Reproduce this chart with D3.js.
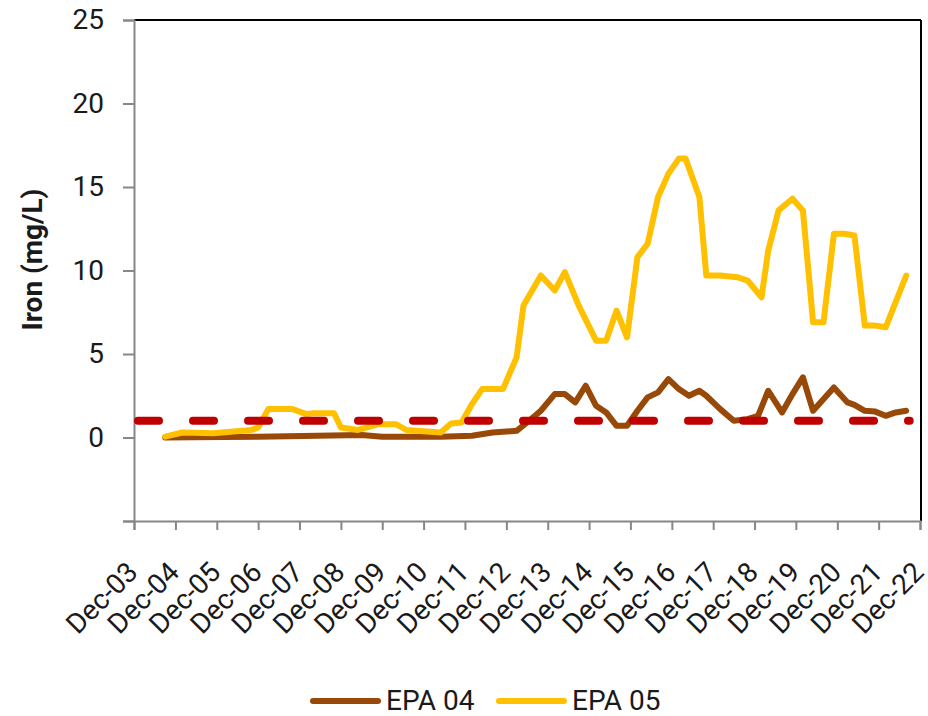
<!DOCTYPE html>
<html>
<head>
<meta charset="utf-8">
<script src="https://cdnjs.cloudflare.com/ajax/libs/d3/7.8.5/d3.min.js"></script>
<style>
body { margin: 0; background: #fff; }
#chart text { font-family: Roboto, "Noto Sans", sans-serif; fill: #1a1a1a; }
</style>
</head>
<body>
<div id="chart"></div>
<script>
// EPA 04 readings
var epa04Dates = ["2004-09","2005-05","2006-12","2009-06","2009-12","2011-05","2012-02","2012-08","2013-03","2013-06",
                  "2013-10","2014-02","2014-05","2014-08","2014-11","2015-02","2015-05","2015-08","2015-11","2016-02",
                  "2016-05","2016-08","2016-11","2017-02","2017-05","2017-08","2017-10","2018-02","2018-06","2018-10",
                  "2019-01","2019-04","2019-08","2019-11","2020-02","2020-05","2020-11","2021-03","2021-05","2021-08",
                  "2021-11","2022-02","2022-05","2022-08"];
var epa04Values = [0, 0.02, 0.05, 0.15, 0.05, 0.05, 0.1, 0.3, 0.4, 0.9,
                   1.6, 2.6, 2.6, 2.1, 3.1, 1.9, 1.5, 0.7, 0.7, 1.6,
                   2.4, 2.7, 3.5, 2.9, 2.5, 2.8, 2.5, 1.7, 1.0, 1.1,
                   1.3, 2.8, 1.5, 2.6, 3.6, 1.6, 3.0, 2.1, 1.95, 1.6,
                   1.55, 1.3, 1.5, 1.6];

// EPA 05 readings
var epa05Dates = ["2004-09","2005-02","2005-11","2006-10","2006-12","2007-03","2007-10","2008-02","2008-04","2008-10",
                  "2008-12","2009-05","2009-11","2010-04","2010-07","2011-05","2011-08","2011-11","2012-02","2012-05",
                  "2012-11","2013-03","2013-05","2013-10","2014-02","2014-05","2014-09","2015-02","2015-05","2015-08",
                  "2015-11","2016-02","2016-05","2016-08","2016-11","2017-02","2017-04","2017-08","2017-10","2018-02",
                  "2018-07","2018-10","2019-02","2019-04","2019-07","2019-11","2020-02","2020-05","2020-08","2020-11",
                  "2021-02","2021-05","2021-08","2021-11","2022-02","2022-08"];
var epa05Values = [0.05, 0.3, 0.25, 0.45, 0.6, 1.7, 1.7, 1.4, 1.45, 1.45,
                   0.6, 0.45, 0.8, 0.8, 0.45, 0.3, 0.84, 0.9, 2.0, 2.9,
                   2.9, 4.8, 7.9, 9.7, 8.8, 9.9, 7.9, 5.8, 5.8, 7.6,
                   6.0, 10.8, 11.6, 14.4, 15.8, 16.7, 16.7, 14.4, 9.7, 9.7,
                   9.6, 9.4, 8.4, 11.2, 13.6, 14.3, 13.6, 6.9, 6.9, 12.2,
                   12.2, 12.1, 6.7, 6.7, 6.6, 9.7];

// guideline value (1 mg/L)
var limitDates = ["2003-12","2022-09"];
var limitValues = [1, 1];

var tickYears = d3.range(2003, 2023);
var yTicks = [-5, 0, 5, 10, 15, 20, 25];

var seriesNames = ["EPA 04", "EPA 05"];
var seriesColors = ["#984807", "#FFC000"];

var W = 928, H = 716;
var plotLeft = 134, plotRight = 920, plotTop = 20, plotBottom = 521;

var parse = d3.timeParse("%Y-%m");
var fmt = d3.timeFormat("%b-%y");

function pairs(dates, values){
	return dates.map(function(d, i){ return {date: parse(d), value: values[i]}; });
}

var svg = d3.select("#chart").append("svg")
	.attr("width", W)
	.attr("height", H);

var x = d3.scaleTime()
	.domain([new Date(2003, 11, 1), new Date(2022, 11, 1)])
	.range([plotLeft, plotRight]);

var y = d3.scaleLinear()
	.domain([-5, 25])
	.range([plotBottom, plotTop]);

// frame: top and right sides black
svg.append("line")
	.attr("x1", plotLeft).attr("x2", plotRight + 1)
	.attr("y1", plotTop).attr("y2", plotTop)
	.attr("stroke", "#000").attr("stroke-width", 2);
svg.append("line")
	.attr("x1", plotRight + 1).attr("x2", plotRight + 1)
	.attr("y1", plotTop).attr("y2", plotBottom)
	.attr("stroke", "#000").attr("stroke-width", 2);

var yAxis = svg.append("g")
	.attr("transform", "translate(" + plotLeft + ",0)")
	.call(d3.axisLeft(y)
		.tickValues(yTicks)
		.tickSize(11)
		.tickPadding(19)
		.tickFormat(function(d){ return d < 0 ? "" : d; }));

var xAxis = svg.append("g")
	.attr("transform", "translate(0," + plotBottom + ")")
	.call(d3.axisBottom(x)
		.tickValues(tickYears.map(function(yr){ return new Date(yr, 11, 1); }))
		.tickSize(9)
		.tickFormat(fmt));

svg.selectAll(".domain, .tick line")
	.attr("stroke", "#878787")
	.attr("stroke-width", 2);

yAxis.selectAll("text")
	.style("font-size", "28px");

xAxis.selectAll("text")
	.style("font-size", "28px")
	.style("text-anchor", "end")
	.attr("y", 0)
	.attr("dy", "0.35em")
	.attr("transform", "translate(-2,46) rotate(-45)");

// y title
svg.append("text")
	.attr("transform", "translate(42," + ((plotTop + plotBottom) / 2 - 11) + ") rotate(-90)")
	.attr("text-anchor", "middle")
	.style("font-size", "28px")
	.style("font-weight", "bold")
	.text("Iron (mg/L)");

var line = d3.line()
	.x(function(d){ return x(d.date); })
	.y(function(d){ return y(d.value); });

var series = [pairs(epa04Dates, epa04Values), pairs(epa05Dates, epa05Values)];

svg.selectAll("path.series")
	.data(series)
	.enter()
	.append("path")
	.attr("class", "series")
	.attr("d", line)
	.attr("fill", "none")
	.attr("stroke", function(d, i){ return seriesColors[i]; })
	.attr("stroke-width", 6)
	.attr("stroke-linejoin", "round")
	.attr("stroke-linecap", "round");

svg.append("path")
	.attr("d", line(pairs(limitDates, limitValues)))
	.attr("fill", "none")
	.attr("stroke", "#C00000")
	.attr("stroke-width", 8)
	.attr("stroke-dasharray", "21,34")
	.attr("stroke-dashoffset", -4)
	.attr("stroke-linecap", "round");

// legend
var legend = svg.selectAll("g.legend")
	.data(seriesNames)
	.enter()
	.append("g")
	.attr("class", "legend")
	.attr("transform", function(d, i){ return "translate(" + (311 + i * 186) + ",701)"; });

legend.append("line")
	.attr("x1", 2).attr("x2", 67)
	.attr("stroke", function(d, i){ return seriesColors[i]; })
	.attr("stroke-width", 6)
	.attr("stroke-linecap", "round");

legend.append("text")
	.attr("x", 75)
	.attr("y", 9)
	.style("font-size", "28px")
	.text(function(d){ return d; });
</script>
</body>
</html>
